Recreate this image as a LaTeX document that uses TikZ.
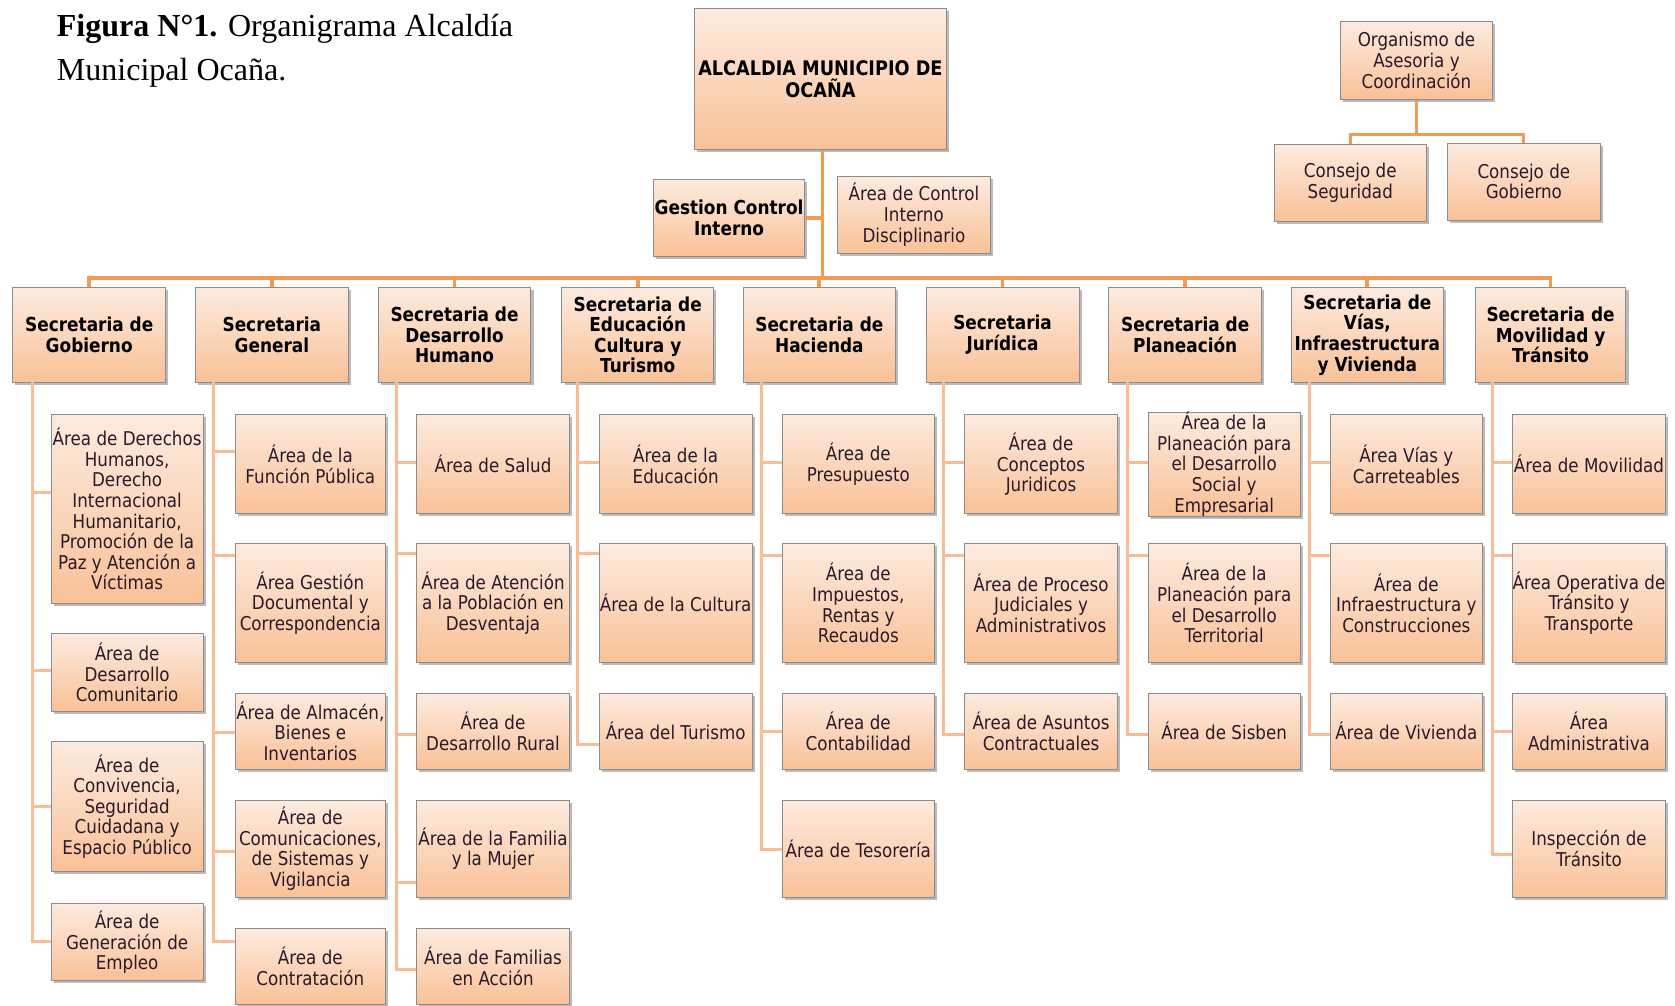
\documentclass[tikz,border=0pt]{standalone}
\usepackage{fontspec}
\setmainfont{Liberation Serif}
\newfontfamily\bxfont{DejaVu Sans}[FakeStretch=0.88]
\usetikzlibrary{shadows}
\definecolor{boxtop}{HTML}{FDEBDF}
\definecolor{boxbot}{HTML}{F9C197}
\definecolor{boxline}{HTML}{8C8C8C}
\definecolor{mainline}{HTML}{F59A52}
\definecolor{arealine}{HTML}{F8BC96}
\definecolor{txt}{HTML}{2A1A2A}
\tikzset{
  bxbase/.style={draw=boxline, line width=0.8pt, top color=boxtop, bottom color=boxbot,
    inner sep=0pt, align=center, text=txt,
    font=\bxfont\fontsize{17.8}{19.3}\selectfont,
    drop shadow={shadow xshift=2.5pt, shadow yshift=-2.5pt, opacity=0.45, fill=black!60}},
  secbox/.style={bxbase, text=black, font=\bxfont\bfseries\fontsize{18}{19.3}\selectfont},
  mainbox/.style={bxbase, text=black, font=\bxfont\bfseries\fontsize{18.8}{20}\selectfont},
  mainl/.style={draw=mainline, line width=3.5pt},
  orgl/.style={draw=mainline, line width=2.8pt},
  areal/.style={draw=arealine, line width=2.8pt},
}
% \bx{style}{name}{x1}{y1}{x2}{y2}{text}
\newcommand\bx[7]{\node[#1,minimum width={(#5-#3)*1pt},minimum height={(#6-#4)*1pt}] (#2) at ({(#3+#5)/2},{(#4+#6)/2}) {#7};}
% \cn{box}{y}{spine}
\newcommand\cn[3]{\draw[areal] (#1.west |- 0,#2) -| (#3);}
\begin{document}
\begin{tikzpicture}[x=1pt,y=-1pt]
\useasboundingbox (0,0) rectangle (1568,941);
% title
\node[anchor=base west, inner sep=0pt, font=\fontsize{30}{41}\selectfont] (t1) at (53,34) {\textbf{Figura N°1.} Organigrama Alcaldía};
\node[anchor=base west, inner sep=0pt, font=\fontsize{30}{41}\selectfont] (t2) at (53,75) {Municipal Ocaña.};

% top
\bx{mainbox}{main}{650}{8}{886}{140}{ALCALDIA MUNICIPIO DE\\OCAÑA}
\bx{secbox}{gci}{612}{168}{753}{240}{Gestion Control\\Interno}
\bx{bxbase}{acid}{784}{165}{927}{237}{Área de Control\\Interno\\Disciplinario}
\bx{bxbase}{org}{1255}{20}{1397}{93}{Organismo de\\Asesoria y\\Coordinación}
\bx{bxbase}{cs}{1193}{135}{1335}{207}{Consejo de\\Seguridad}
\bx{bxbase}{cg}{1355}{134}{1498}{206}{Consejo de\\Gobierno}

% secretarias
\bx{secbox}{s1}{12}{269}{155}{358}{Secretaria de\\Gobierno}
\bx{secbox}{s2}{183}{269}{326}{358}{Secretaria\\General}
\bx{secbox}{s3}{354}{269}{497}{358}{Secretaria de\\Desarrollo\\Humano}
\bx{secbox}{s4}{526}{269}{668}{358}{Secretaria de\\Educación\\Cultura y\\Turismo}
\bx{secbox}{s5}{696}{269}{838}{358}{Secretaria de\\Hacienda}
\bx{secbox}{s6}{867}{269}{1010}{358}{Secretaria\\Jurídica}
\bx{secbox}{s7}{1038}{269}{1181}{358}{Secretaria de\\Planeación}
\bx{secbox}{s8}{1209}{269}{1351}{358}{Secretaria de\\Vías,\\Infraestructura\\y Vivienda}
\bx{secbox}{s9}{1381}{269}{1522}{358}{Secretaria de\\Movilidad y\\Tránsito}

% col 1
\bx{bxbase}{a11}{48}{388}{190}{565}{Área de Derechos\\Humanos,\\Derecho\\Internacional\\Humanitario,\\Promoción de la\\Paz y Atención a\\Víctimas}
\bx{bxbase}{a12}{48}{593}{190}{666}{Área de\\Desarrollo\\Comunitario}
\bx{bxbase}{a13}{48}{694}{190}{816}{Área de\\Convivencia,\\Seguridad\\Cuidadana y\\Espacio Público}
\bx{bxbase}{a14}{48}{846}{190}{918}{Área de\\Generación de\\Empleo}
% col 2
\bx{bxbase}{a21}{220}{388}{361}{481}{Área de la\\Función Pública}
\bx{bxbase}{a22}{220}{509}{361}{620}{Área Gestión\\Documental y\\Correspondencia}
\bx{bxbase}{a23}{220}{649}{361}{720}{Área de Almacén,\\Bienes e\\Inventarios}
\bx{bxbase}{a24}{220}{749}{361}{840}{Área de\\Comunicaciones,\\de Sistemas y\\Vigilancia}
\bx{bxbase}{a25}{220}{869}{361}{940}{Área de\\Contratación}
% col 3
\bx{bxbase}{a31}{390}{388}{533}{481}{Área de Salud}
\bx{bxbase}{a32}{390}{509}{533}{620}{Área de Atención\\a la Población en\\Desventaja}
\bx{bxbase}{a33}{390}{649}{533}{720}{Área de\\Desarrollo Rural}
\bx{bxbase}{a34}{390}{749}{533}{840}{Área de la Familia\\y la Mujer}
\bx{bxbase}{a35}{390}{869}{533}{940}{Área de Familias\\en Acción}
% col 4
\bx{bxbase}{a41}{561}{388}{704}{481}{Área de la\\Educación}
\bx{bxbase}{a42}{561}{509}{704}{620}{Área de la Cultura}
\bx{bxbase}{a43}{561}{649}{704}{720}{Área del Turismo}
% col 5
\bx{bxbase}{a51}{732}{388}{875}{481}{Área de\\Presupuesto}
\bx{bxbase}{a52}{732}{509}{875}{620}{Área de\\Impuestos,\\Rentas y\\Recaudos}
\bx{bxbase}{a53}{732}{649}{875}{720}{Área de\\Contabilidad}
\bx{bxbase}{a54}{732}{749}{875}{840}{Área de Tesorería}
% col 6
\bx{bxbase}{a61}{903}{388}{1046}{481}{Área de\\Conceptos\\Juridicos}
\bx{bxbase}{a62}{903}{509}{1046}{620}{Área de Proceso\\Judiciales y\\Administrativos}
\bx{bxbase}{a63}{903}{649}{1046}{720}{Área de Asuntos\\Contractuales}
% col 7
\bx{bxbase}{a71}{1075}{388}{1217}{481}{Área de la\\Planeación para\\el Desarrollo\\Social y\\Empresarial}
\bx{bxbase}{a72}{1075}{509}{1217}{620}{Área de la\\Planeación para\\el Desarrollo\\Territorial}
\bx{bxbase}{a73}{1075}{649}{1217}{720}{Área de Sisben}
% col 8
\bx{bxbase}{a81}{1245}{388}{1388}{481}{Área Vías y\\Carreteables}
\bx{bxbase}{a82}{1245}{509}{1388}{620}{Área de\\Infraestructura y\\Construcciones}
\bx{bxbase}{a83}{1245}{649}{1388}{720}{Área de Vivienda}
% col 9
\bx{bxbase}{a91}{1416}{388}{1559}{481}{Área de Movilidad}
\bx{bxbase}{a92}{1416}{509}{1559}{620}{Área Operativa de\\Tránsito y\\Transporte}
\bx{bxbase}{a93}{1416}{649}{1559}{720}{Área\\Administrativa}
\bx{bxbase}{a94}{1416}{749}{1559}{840}{Inspección de\\Tránsito}

% top connectors
\coordinate (bus) at (770,260);
\draw[mainl] (main.south -| bus) -- (bus);
\draw[mainl] (gci.east) -- (gci.east -| bus);
\foreach \s in {s1,s2,s3,s4,s5,s6,s7,s8,s9} {\draw[mainl] (\s.north) |- (bus);}
\coordinate (orgbus) at (1326,126);
\draw[orgl] (org.south) -- (orgbus);
\draw[orgl] (cs.north) |- (orgbus);
\draw[orgl] (cg.north) |- (orgbus);

% spines
\coordinate (sp1) at (30,358);
\coordinate (sp2) at (200,358);
\coordinate (sp3) at (371,358);
\coordinate (sp4) at (541,358);
\coordinate (sp5) at (713,358);
\coordinate (sp6) at (883,358);
\coordinate (sp7) at (1055,358);
\coordinate (sp8) at (1226,358);
\coordinate (sp9) at (1397,358);

\cn{a11}{461}{sp1}\cn{a12}{628}{sp1}\cn{a13}{755}{sp1}\cn{a14}{881}{sp1}
\cn{a21}{423}{sp2}\cn{a22}{520}{sp2}\cn{a23}{686}{sp2}\cn{a24}{797}{sp2}\cn{a25}{881}{sp2}
\cn{a31}{433}{sp3}\cn{a32}{518}{sp3}\cn{a33}{688}{sp3}\cn{a34}{826}{sp3}\cn{a35}{908}{sp3}
\cn{a41}{433}{sp4}\cn{a42}{518}{sp4}\cn{a43}{697}{sp4}
\cn{a51}{433}{sp5}\cn{a52}{520}{sp5}\cn{a53}{685}{sp5}\cn{a54}{795}{sp5}
\cn{a61}{433}{sp6}\cn{a62}{520}{sp6}\cn{a63}{688}{sp6}
\cn{a71}{433}{sp7}\cn{a72}{520}{sp7}\cn{a73}{688}{sp7}
\cn{a81}{433}{sp8}\cn{a82}{520}{sp8}\cn{a83}{688}{sp8}
\cn{a91}{433}{sp9}\cn{a92}{520}{sp9}\cn{a93}{685}{sp9}\cn{a94}{800}{sp9}
\end{tikzpicture}
\end{document}
